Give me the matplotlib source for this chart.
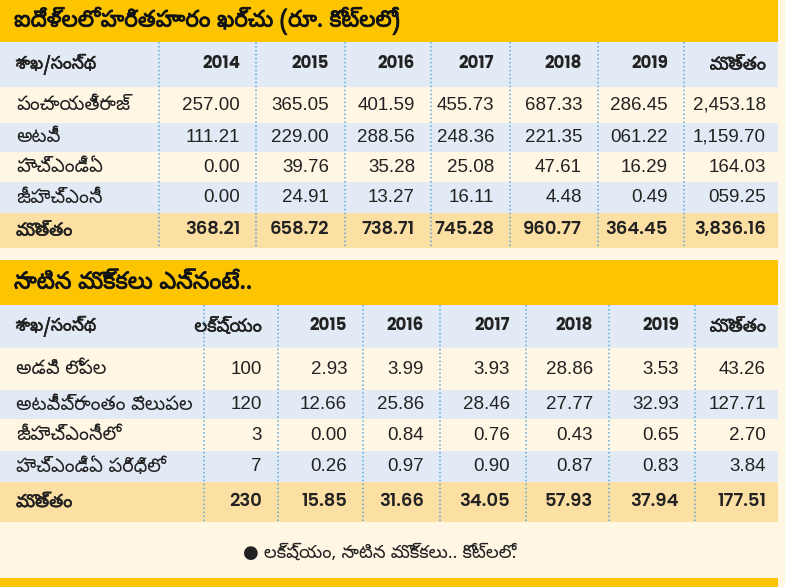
import matplotlib
matplotlib.use("Agg")
import matplotlib.pyplot as plt
import matplotlib.patheffects as pe
from matplotlib.patches import Rectangle

# ---- data ----
title1 = "ఐదేళ్లలో హరితహారం ఖర్చు (రూ. కోట్లలో)"
header1 = ["శాఖ/సంస్థ", "2014", "2015", "2016", "2017", "2018", "2019", "మొత్తం"]
rows1 = ["పంచాయతీరాజ్", "అటవీ", "హెచ్ఎండీఏ", "జీహెచ్ఎంసీ"]
spend_panchayat = ["257.00", "365.05", "401.59", "455.73", "687.33", "286.45", "2,453.18"]
spend_forest = ["111.21", "229.00", "288.56", "248.36", "221.35", "061.22", "1,159.70"]
spend_hmda = ["0.00", "39.76", "35.28", "25.08", "47.61", "16.29", "164.03"]
spend_ghmc = ["0.00", "24.91", "13.27", "16.11", "4.48", "0.49", "059.25"]
spend_total = ["368.21", "658.72", "738.71", "745.28", "960.77", "364.45", "3,836.16"]

title2 = "నాటిన మొక్కలు ఎన్నంటే.."
header2 = ["శాఖ/సంస్థ", "లక్ష్యం", "2015", "2016", "2017", "2018", "2019", "మొత్తం"]
rows2 = ["అడవి లోపల", "అటవీప్రాంతం వెలుపల", "జీహెచ్ఎంసీలో", "హెచ్ఎండీఏ పరిధిలో"]
plant_inside = ["100", "2.93", "3.99", "3.93", "28.86", "3.53", "43.26"]
plant_outside = ["120", "12.66", "25.86", "28.46", "27.77", "32.93", "127.71"]
plant_ghmc = ["3", "0.00", "0.84", "0.76", "0.43", "0.65", "2.70"]
plant_hmda = ["7", "0.26", "0.97", "0.90", "0.87", "0.83", "3.84"]
plant_total = ["230", "15.85", "31.66", "34.05", "57.93", "37.94", "177.51"]

footnote = "● లక్ష్యం, నాటిన మొక్కలు.. కోట్లలో."

# ---- style ----
YELLOW = "#fdc500"
BLUE = "#e2ebf5"
CREAM = "#fff6e3"
TOTAL = "#fcdfa3"
DOT = "#5aa8dc"
INK = "#222222"
TEL = ["Noto Sans Telugu", "DejaVu Sans"]
NUM = ["Liberation Sans", "DejaVu Sans"]
GEO = ["Poppins", "DejaVu Sans"]
BOLD = [pe.withStroke(linewidth=0.6, foreground=INK)]
SEMI = [pe.withStroke(linewidth=0.35, foreground=INK)]

fig = plt.figure(figsize=(7.85, 5.87), dpi=100, facecolor=CREAM)
ax = fig.add_axes([0, 0, 1, 1])
ax.set_xlim(0, 785)
ax.set_ylim(587, 0)
ax.axis("off")

RIGHT = 778
LEFT = 16
PAD = 16


def band(y0, y1, color):
    ax.add_patch(Rectangle((0, y0), RIGHT, y1 - y0, color=color, lw=0))


def draw_table(top, title, title_size, header, labels, body, totals, seps, row_edges):
    # title bar
    band(top, row_edges[0], YELLOW)
    ax.text(LEFT - 2, (top + row_edges[0]) / 2, title, family=TEL, fontsize=title_size,
            va="center", ha="left", color="#111111", path_effects=BOLD)
    colors = [BLUE, CREAM, BLUE, CREAM, BLUE, TOTAL]
    for i, c in enumerate(colors):
        band(row_edges[i], row_edges[i + 1], c)
    rights = list(seps[1:]) + [RIGHT + 4]
    # header
    yc = (row_edges[0] + row_edges[1]) / 2
    ax.text(LEFT, yc, header[0], family=TEL, fontsize=12.5, va="center",
            ha="left", color=INK, path_effects=SEMI)
    for j, h in enumerate(header[1:]):
        if h.isdigit():
            ax.text(rights[j] - PAD, yc, h, family=GEO, fontsize=12,
                    fontweight="bold", va="center", ha="right", color=INK)
        else:
            ax.text(rights[j] - PAD, yc, h, family=TEL, fontsize=13,
                    va="center", ha="right", color=INK, path_effects=SEMI)
    # body rows
    for i, (lab, vals) in enumerate(zip(labels, body)):
        yc = (row_edges[i + 1] + row_edges[i + 2]) / 2
        ax.text(LEFT, yc, lab, family=TEL, fontsize=14, va="center", ha="left",
                color=INK)
        for j, v in enumerate(vals):
            ax.text(rights[j] - PAD, yc, v, family=NUM, fontsize=13.5,
                    va="center", ha="right", color=INK)
    # totals
    yc = (row_edges[-2] + row_edges[-1]) / 2
    ax.text(LEFT, yc, header[-1], family=TEL, fontsize=13, va="center",
            ha="left", color=INK, path_effects=SEMI)
    for j, v in enumerate(totals):
        ax.text(rights[j] - PAD, yc, v, family=GEO, fontsize=13,
                fontweight="semibold", va="center", ha="right", color=INK)
    # dotted separators
    for s in seps:
        ax.plot([s, s], [row_edges[0], row_edges[-1]], color=DOT, lw=1.1,
                ls=(0, (1, 1.6)))


seps1 = [159, 256, 345, 431, 510, 598, 684]
edges1 = [42, 87, 123, 152, 182, 213, 248]
draw_table(0, title1, 16.5, header1, rows1,
           [spend_panchayat, spend_forest, spend_hmda, spend_ghmc],
           spend_total, seps1, edges1)

seps2 = [204, 278, 363, 440, 526, 609, 695]
edges2 = [305, 348, 390, 419, 451, 482, 522]
draw_table(260, title2, 17, header2, rows2,
           [plant_inside, plant_outside, plant_ghmc, plant_hmda],
           plant_total, seps2, edges2)

ax.text(380, 553, footnote, family=TEL, fontsize=13, va="center",
        ha="center", color=INK)
band(578, 587, YELLOW)

fig.savefig("out.png", dpi=100, facecolor=CREAM)
